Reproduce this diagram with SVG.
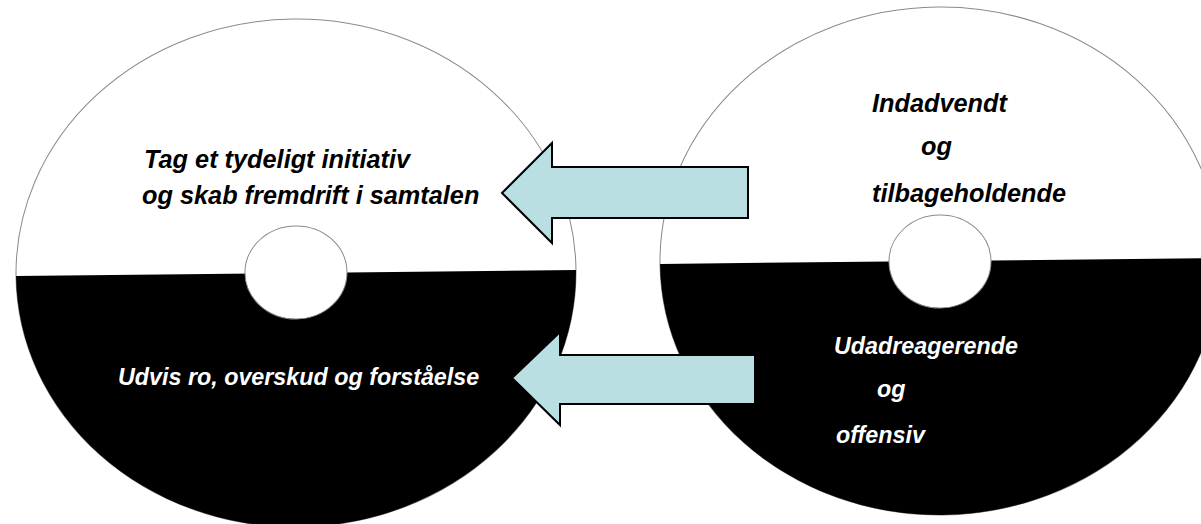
<svg xmlns="http://www.w3.org/2000/svg" width="1201" height="524" viewBox="0 0 1201 524">
  <style>
    .disc { fill: #ffffff; stroke: #8a8a8a; stroke-width: 1; }
    .dark { fill: #000000; }
    .hole { fill: #ffffff; stroke: #8a8a8a; stroke-width: 1; }
    .arrow { fill: #b9dfe3; stroke: #000000; stroke-width: 2; stroke-linejoin: miter; }
    .t { font-family: "Liberation Sans", Arial, sans-serif; font-weight: bold; font-style: italic; }
    .tb { fill: #000000; font-size: 25.3px; }
    .tw { fill: #ffffff; font-size: 23.3px; }
  </style>
  <rect x="0" y="0" width="1201" height="524" fill="#ffffff"/>

  <g id="disc-left" transform="rotate(-0.6 296 273)">
    <ellipse class="disc" cx="296" cy="273" rx="280" ry="254"/>
    <path class="dark" d="M16,273 A280,254 0 0 0 576,273 Z"/>
    <ellipse class="hole" cx="296" cy="272.5" rx="51" ry="46.5"/>
  </g>

  <g id="disc-right" transform="rotate(-0.6 940 261)">
    <ellipse class="disc" cx="940" cy="261" rx="280" ry="254"/>
    <path class="dark" d="M660,261 A280,254 0 0 0 1220,261 Z"/>
    <ellipse class="hole" cx="940" cy="261.5" rx="51" ry="46.5"/>
  </g>

  <g id="connectors">
    <path id="arrow-top" class="arrow" d="M502,193 L552,143 L552,167 L748,167 L748,218 L552,218 L552,243 Z"/>
    <path id="arrow-bottom" class="arrow" d="M512,378 L560,332 L560,355 L755,355 L755,404 L560,404 L560,425 Z"/>
  </g>

  <g id="label-left-top">
    <text class="t tb" x="144" y="168">Tag et tydeligt initiativ</text>
    <text class="t tb" x="142" y="204">og skab fremdrift i samtalen</text>
  </g>
  <g id="label-left-bottom">
    <text class="t tw" x="118" y="385">Udvis ro, overskud og forståelse</text>
  </g>
  <g id="label-right-top">
    <text class="t tb" x="872" y="112">Indadvendt</text>
    <text class="t tb" x="921" y="155">og</text>
    <text class="t tb" x="872" y="202">tilbageholdende</text>
  </g>
  <g id="label-right-bottom">
    <text class="t tw" x="834" y="354">Udadreagerende</text>
    <text class="t tw" x="877" y="397">og</text>
    <text class="t tw" x="836" y="443">offensiv</text>
  </g>
</svg>
